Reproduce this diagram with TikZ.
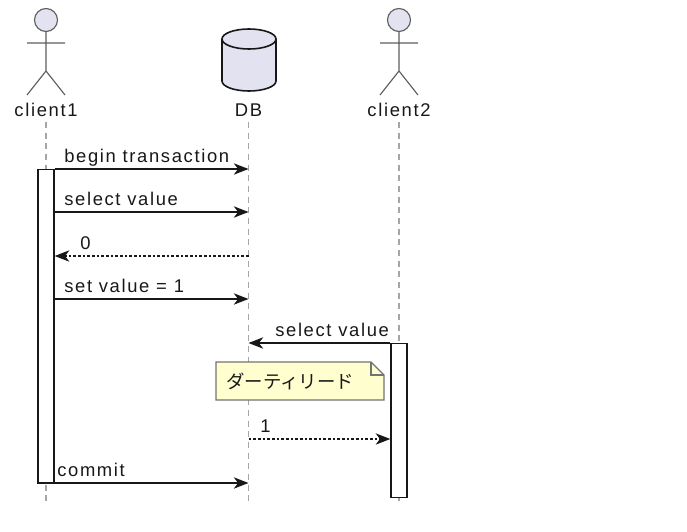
\documentclass[tikz,border=0pt]{standalone}
\usepackage{fontspec}
\setmainfont{Liberation Sans}[LetterSpace=9]
\newfontfamily\jpfont{Noto Sans CJK JP}
\usepackage{tikz}
\usetikzlibrary{arrows.meta, positioning}

\definecolor{partfill}{HTML}{E2E2F0}
\definecolor{ink}{HTML}{181818}
\definecolor{notefill}{HTML}{FEFECE}

\begin{document}
\begin{tikzpicture}[x=0.75pt, y=-0.75pt,
        every node/.style={font=\fontsize{13.8}{16}\selectfont, inner sep=0pt, text=ink},
        actor/.style={draw=ink!70, line width=0.85pt},
        lifeline/.style={draw=gray!70, line width=1pt, dash pattern=on 4.5pt off 3.5pt},
        actbox/.style={draw=ink, fill=white, line width=1pt, minimum width=12pt},
        msg/.style={draw=ink, line width=1pt, -{Stealth[length=11pt, width=8.5pt, inset=3.2pt]}},
        reply/.style={msg, dash pattern=on 2pt off 1.5pt},
        lbl/.style={anchor=base west},
    ]
    \useasboundingbox (0,0) rectangle (687,532);
    % participants
    \node (c1) at (46,110) {client1};
    \node (db) at (248.5,110) {DB};
    \node (c2) at (399,110) {client2};
    % lifelines
    \draw[lifeline] (46,122) -- (46,505);
    \draw[lifeline] (248.5,122) -- (248.5,505);
    \draw[lifeline] (399,122) -- (399,505);
    % actors
    \draw[actor, fill=partfill] (46,20) circle (11.5);
    \draw[actor] (46,31.5) -- (46,71) (27,43) -- (65,43) (27,95) -- (46,71) -- (65,95);
    \draw[actor, fill=partfill] (399,20) circle (11.5);
    \draw[actor] (399,31.5) -- (399,71) (380,43) -- (418,43) (380,95) -- (399,71) -- (418,95);
    % database
    \draw[draw=ink, fill=partfill, line width=1.2pt]
        (222,39) -- (222,81) arc[start angle=180, end angle=360, x radius=27, y radius=-10]
        -- (276,39) arc[start angle=0, end angle=180, x radius=27, y radius=-10];
    \draw[draw=ink, line width=1.2pt] (222,39) arc[start angle=180, end angle=360, x radius=27, y radius=-10];
    % activations
    \node[actbox, anchor=north, minimum height=235pt] (act1) at (46,169) {};
    \node[actbox, anchor=north, minimum height=115.5pt] (act2) at (399,343) {};
    % points on the DB lifeline
    \coordinate (d1) at (248.5,169);
    \coordinate (d2) at (248.5,212);
    \coordinate (d3) at (248.5,256);
    \coordinate (d4) at (248.5,299);
    \coordinate (d5) at (248.5,343);
    \coordinate (d6) at (248.5,439);
    \coordinate (d7) at (248.5,483);
    % messages
    \draw[msg] (act1.east |- d1) -- (d1);
    \node[lbl] (m1) at (64,162) {begin transaction};
    \draw[msg] (act1.east |- d2) -- (d2);
    \node[lbl] (m2) at (64,205) {select value};
    \draw[reply] (d3) -- (act1.east |- d3);
    \node[lbl] (m3) at (80,249) {0};
    \draw[msg] (act1.east |- d4) -- (d4);
    \node[lbl] (m4) at (64,292) {set value = 1};
    \draw[msg] (act2.west |- d5) -- (d5);
    \node[lbl] (m5) at (275,336) {select value};
    \draw[reply] (d6) -- (act2.west |- d6);
    \node[lbl] (m6) at (260,432) {1};
    \draw[msg] (act1.east |- d7) -- (d7);
    \node[lbl] (m7) at (57,476) {commit};
    % note
    \draw[draw=gray!90!black, fill=notefill, line width=0.8pt]
        (216,362) -- (371,362) -- (384,375) -- (384,400) -- (216,400) -- cycle;
    \draw[draw=gray!90!black, line width=0.8pt] (371,362) -- (371,375) -- (384,375);
    \node[anchor=base west, font=\jpfont\fontsize{13.8}{16}\selectfont] (dirty) at (226,388) {ダーティリード};
\end{tikzpicture}
\end{document}
